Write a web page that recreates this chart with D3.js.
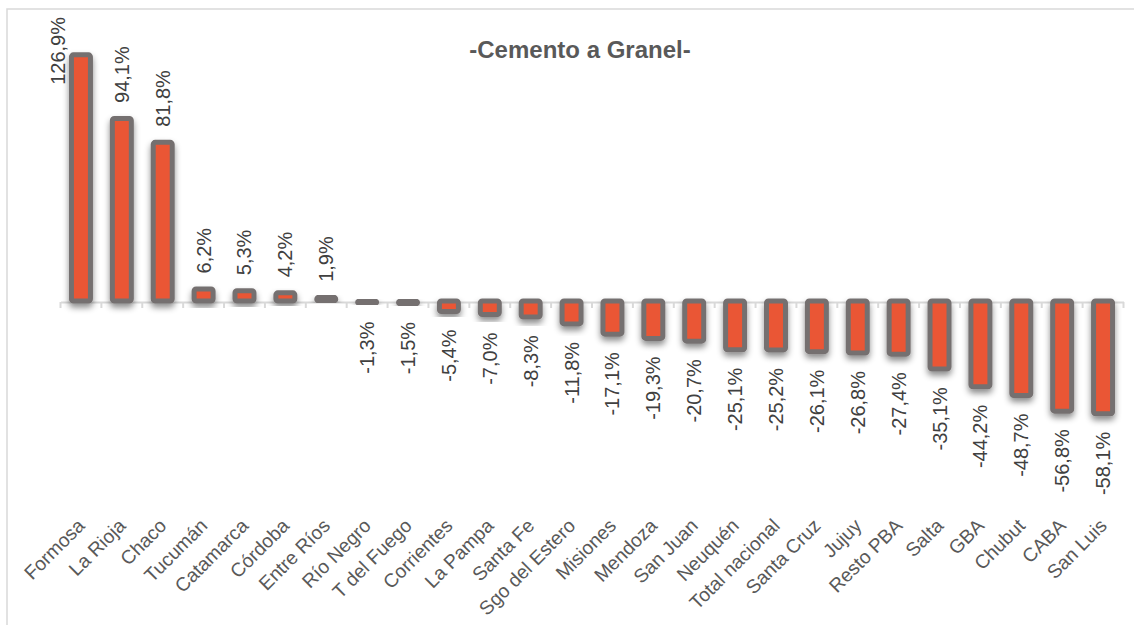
<!DOCTYPE html>
<html>
<head>
<meta charset="utf-8">
<script src="https://cdn.jsdelivr.net/npm/d3@7"></script>
<style>
  html, body { margin: 0; padding: 0; background: #ffffff; }
  svg { display: block; font-family: "Liberation Sans", Arial, sans-serif; }
</style>
</head>
<body>
<svg id="chart" width="1134" height="625"></svg>
<script>
const categories = ["Formosa","La Rioja","Chaco","Tucumán","Catamarca","Córdoba","Entre Ríos","Río Negro","T del Fuego","Corrientes","La Pampa","Santa Fe","Sgo del Estero","Misiones","Mendoza","San Juan","Neuquén","Total nacional","Santa Cruz","Jujuy","Resto PBA","Salta","GBA","Chubut","CABA","San Luis"];
const values = [126.9,94.1,81.8,6.2,5.3,4.2,1.9,-1.3,-1.5,-5.4,-7.0,-8.3,-11.8,-17.1,-19.3,-20.7,-25.1,-25.2,-26.1,-26.8,-27.4,-35.1,-44.2,-48.7,-56.8,-58.1];
const title = "-Cemento a Granel-";

const svg = d3.select("#chart");
const W = 1134, H = 625;

// frame
svg.append("rect").attr("x", 7).attr("y", 9).attr("width", W + 20).attr("height", H + 20)
  .attr("fill", "none").attr("stroke", "#d9d9d9").attr("stroke-width", 1.5);

const defs = svg.append("defs");
const f = defs.append("filter").attr("id", "shadow").attr("x", "-50%").attr("y", "-50%").attr("width", "200%").attr("height", "200%");
f.append("feDropShadow").attr("dx", 0).attr("dy", 4).attr("stdDeviation", 3)
  .attr("flood-color", "#000").attr("flood-opacity", 0.45);

const x = d3.scaleBand().domain(categories).range([60.5, 1123.5]).paddingInner(0).paddingOuter(0);
const y = d3.scaleLinear().domain([-60, 130]).range([301 + 60 * 1.94, 301 - 130 * 1.94]);

// axis
const axisG = svg.append("g").attr("transform", `translate(0,${y(0) + 1})`)
  .call(d3.axisBottom(x).tickSize(0).tickFormat(""));
axisG.select(".domain").attr("stroke", "#d9d9d9").attr("stroke-width", 2);
const bounds = categories.map(c => x(c)).concat([x.range()[1]]);
axisG.selectAll(".btick").data(bounds).join("line").attr("class", "btick")
  .attr("x1", d => d).attr("x2", d => d).attr("y1", 0).attr("y2", 6)
  .attr("stroke", "#d9d9d9").attr("stroke-width", 2);

// bars
const bw = 19;
svg.append("g").selectAll("rect").data(values).join("rect")
  .attr("x", (d, i) => x(categories[i]) + x.bandwidth() / 2 - bw / 2)
  .attr("y", d => Math.min(y(d), y(0)))
  .attr("width", bw)
  .attr("height", d => Math.abs(y(d) - y(0)))
  .attr("rx", 2)
  .attr("fill", "#ea5635")
  .attr("stroke", "#757070")
  .attr("stroke-width", 5)
  .attr("filter", "url(#shadow)");

// value labels
const fmt = v => (v < 0 ? "-" : "") + Math.abs(v).toFixed(1).replace(".", ",") + "%";
svg.append("g").selectAll("text").data(values).join("text")
  .each(function (d, i) {
    const cx = x(categories[i]) + x.bandwidth() / 2;
    const t = d3.select(this);
    let px = cx, py, anchor;
    if (d >= 0) {
      py = y(d) - 15.5; anchor = "start";
      if (py - 70 < 12) { px = cx - 23; py = 17; anchor = "end"; }
    } else {
      py = y(d) + 18; anchor = "end";
    }
    t.attr("transform", `translate(${px},${py}) rotate(-90)`)
      .attr("text-anchor", anchor)
      .attr("dy", "0.35em");
  })
  .attr("font-size", 20)
  .attr("fill", "#404040")
  .text(d => fmt(d));

// category labels
svg.append("g").selectAll("text").data(categories).join("text")
  .attr("transform", c => `translate(${x(c) + x.bandwidth() / 2 + 5},${527}) rotate(-45)`)
  .attr("text-anchor", "end")
  .attr("font-size", 19.3)
  .attr("fill", "#595959")
  .text(c => c);

// title
svg.append("text").attr("x", 580).attr("y", 58).attr("text-anchor", "middle")
  .attr("font-size", 24).attr("font-weight", "bold").attr("fill", "#595959")
  .text(title);
</script>
</body>
</html>
